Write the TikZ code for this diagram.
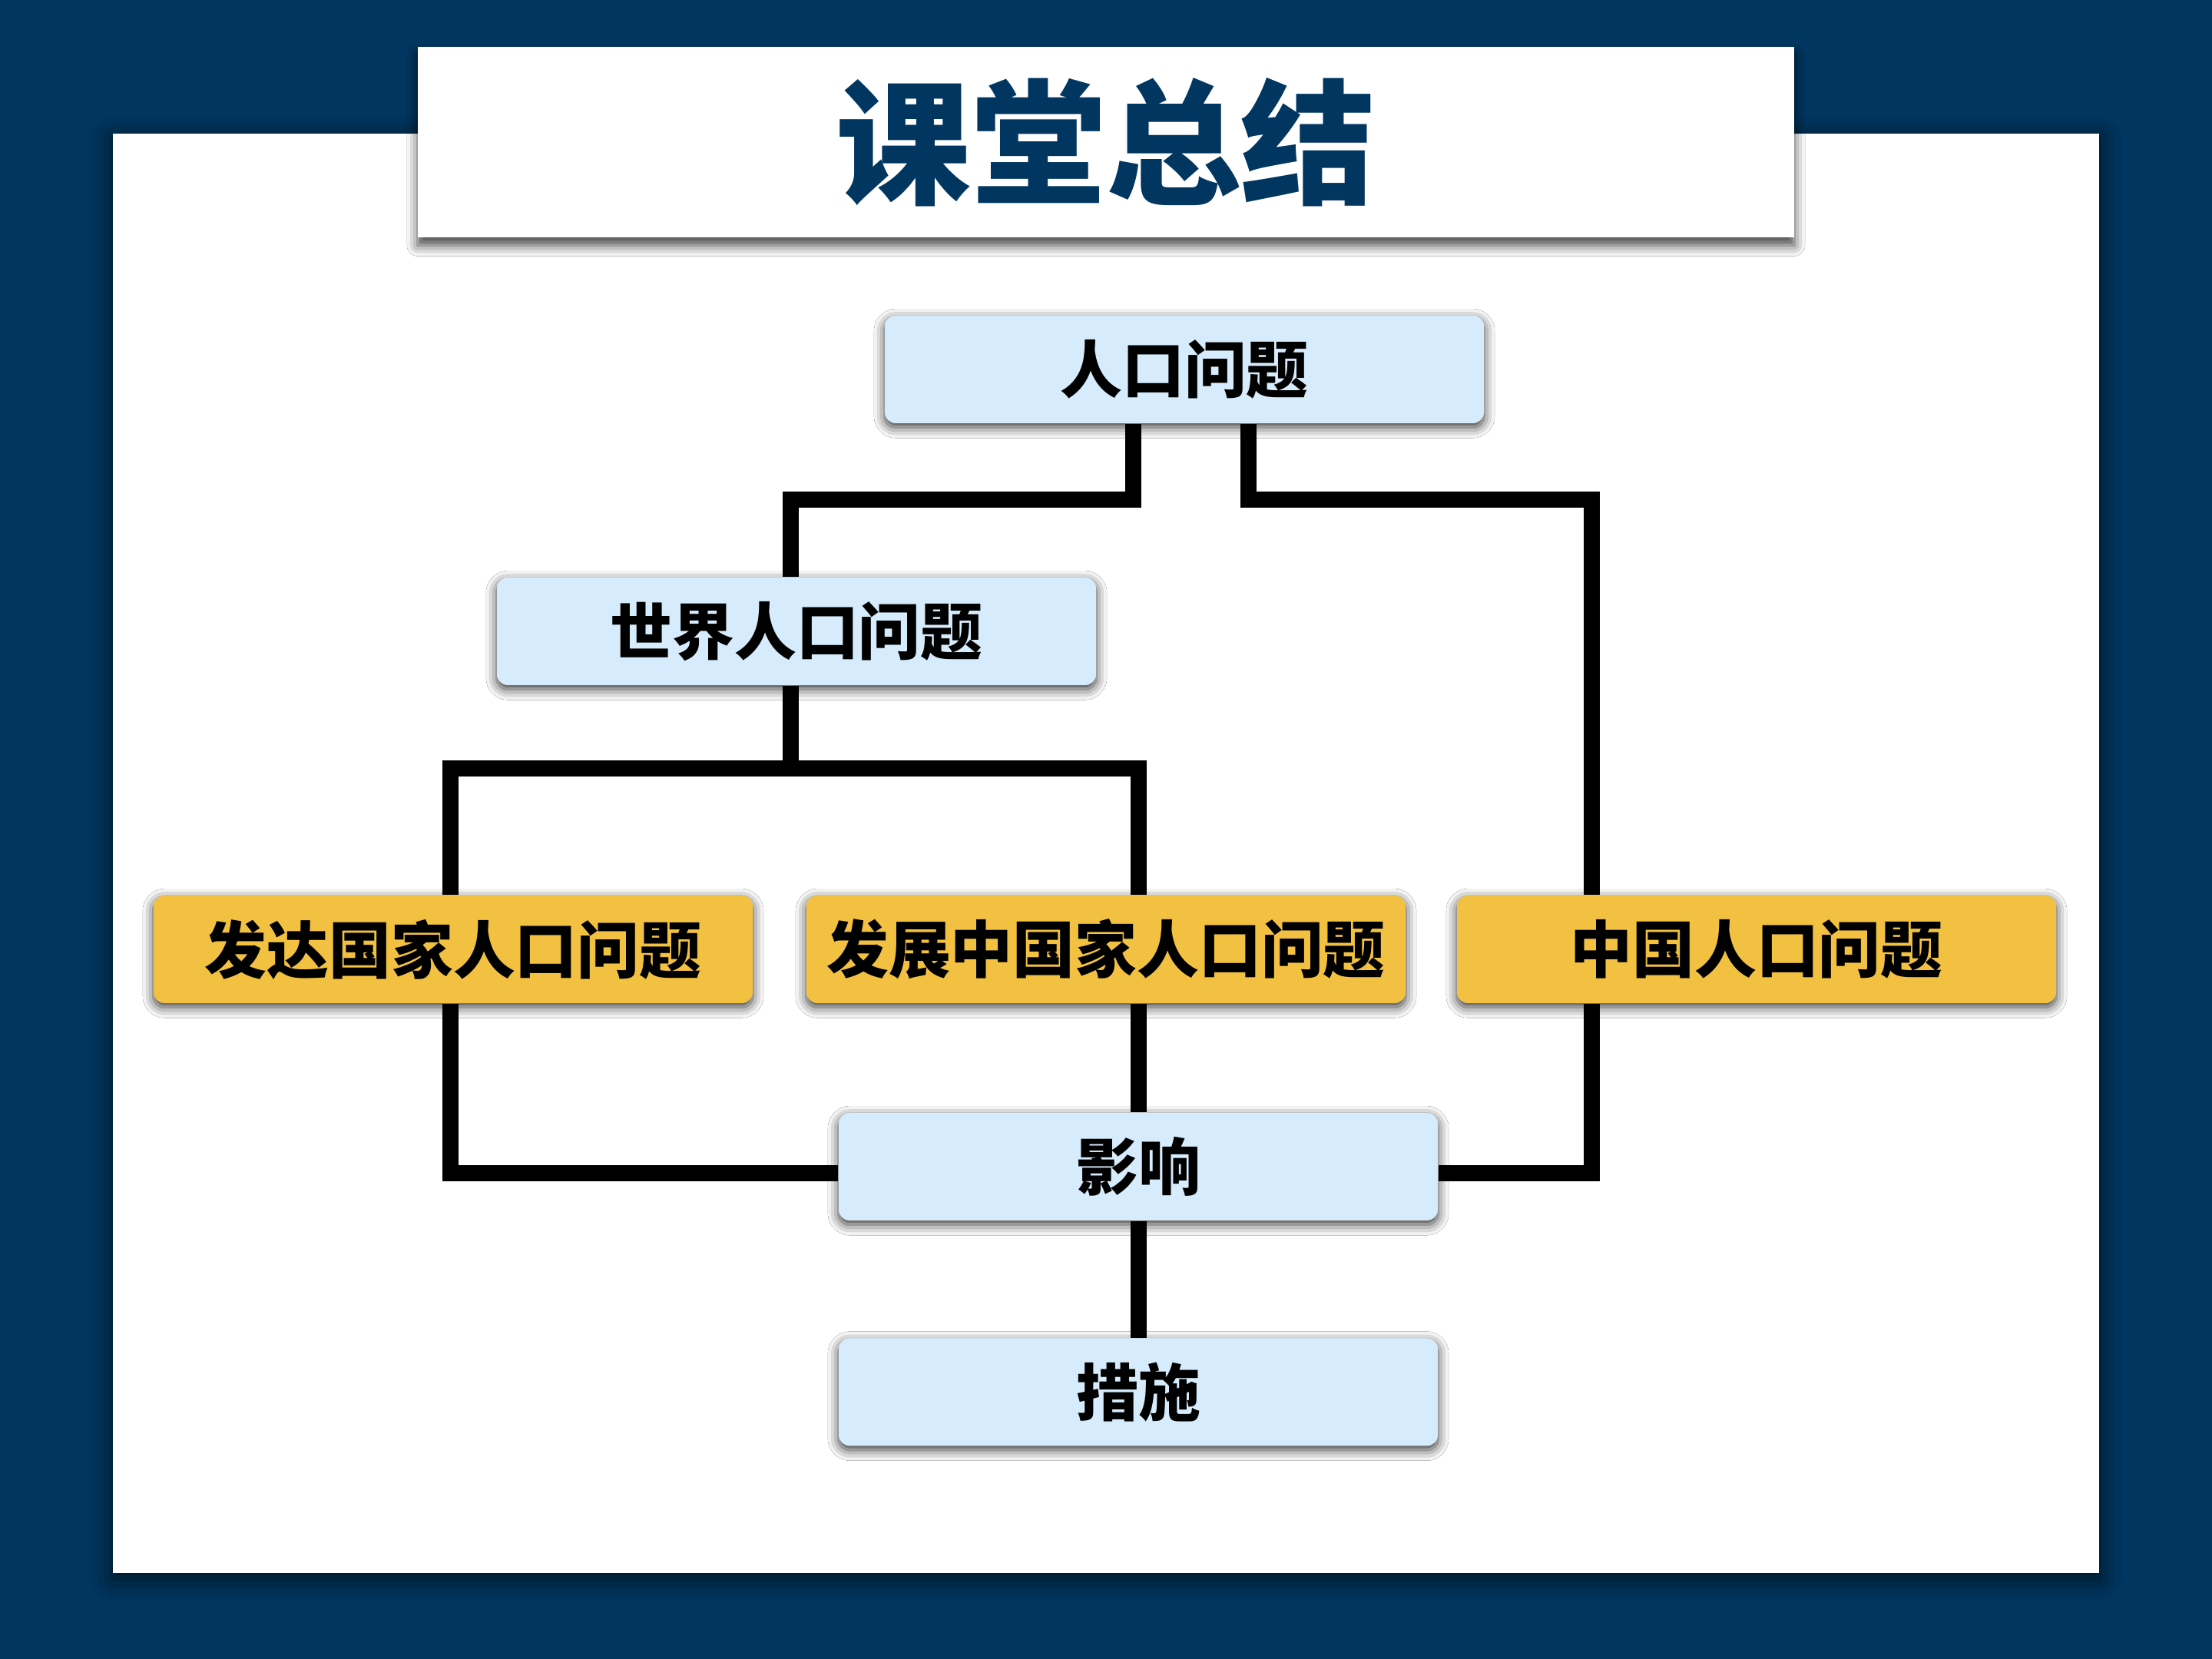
\documentclass[tikz,border=0pt]{standalone}
\usepackage{fontspec}
\newfontfamily\cjk{Noto Sans CJK SC}
\usetikzlibrary{positioning,shadows.blur}
\definecolor{navy}{RGB}{0,54,96}
\definecolor{boxblue}{RGB}{214,235,251}
\definecolor{boxgold}{RGB}{243,193,66}

\begin{document}
\begin{tikzpicture}[
 font=\cjk\bfseries\fontsize{23}{26}\selectfont,
 box/.style={rounded corners=4pt, fill=boxblue, minimum width=7.8cm, minimum height=1.4cm, inner sep=0pt,
  blur shadow={shadow xshift=0pt, shadow yshift=-1.5pt, shadow blur radius=4pt, shadow opacity=80}},
 gold/.style={box, fill=boxgold},
 link/.style={line width=0.21cm, black}]
\fill[navy] (0,0) rectangle (28.8,21.6);
\useasboundingbox (0,0) rectangle (28.8,21.6);
\fill[white, blur shadow={shadow xshift=0pt, shadow yshift=-2pt, shadow blur radius=8pt, shadow opacity=70}]
 (1.47,1.12) rectangle (27.33,19.86);
\node[fill=white, minimum width=17.92cm, minimum height=2.48cm, text=navy,
 font=\cjk\bfseries\fontsize{50}{56}\selectfont,
 blur shadow={shadow xshift=0pt, shadow yshift=-3pt, shadow blur radius=4pt, shadow opacity=75}] (title) at (14.40,19.75) {课堂总结};
% boxes
\node[box] (top) at (15.42,16.79) {人口问题};
\node[box] (world) at (10.37,13.38) {世界人口问题};
\node[gold] (dev) at (5.90,9.24) {发达国家人口问题};
\node[gold] (deving) at (14.40,9.24) {发展中国家人口问题};
\node[gold] (china) at (22.87,9.24) {中国人口问题};
\node[box] (effect) at (14.82,6.41) {影响};
\node[box, below=1.52cm of effect] (measure) {措施};
% connectors
\draw[link] ([xshift=-0.67cm]top.south) -- ++(0,-0.99) -| ([xshift=-0.08cm]world.north);
\draw[link] ([xshift=0.83cm]top.south) -- ++(0,-0.99) -| ([xshift=-2.15cm]china.north);
\draw[link] ([xshift=-0.08cm]world.south) -- ([xshift=-0.08cm,yshift=-1.08cm]world.south);
\draw[link] ([xshift=-0.04cm]dev.north) |- ([yshift=-1.08cm]world.south) -| (deving.north -| effect.north);
\draw[link] ([xshift=-0.04cm]dev.south) |- ([yshift=-0.09cm]effect.west);
\draw[link] (deving.south -| effect.north) -- (effect.north);
\draw[link] ([xshift=-2.15cm]china.south) |- ([yshift=-0.09cm]effect.east);
\draw[link] (effect.south) -- (measure.north);
\end{tikzpicture}
\end{document}
